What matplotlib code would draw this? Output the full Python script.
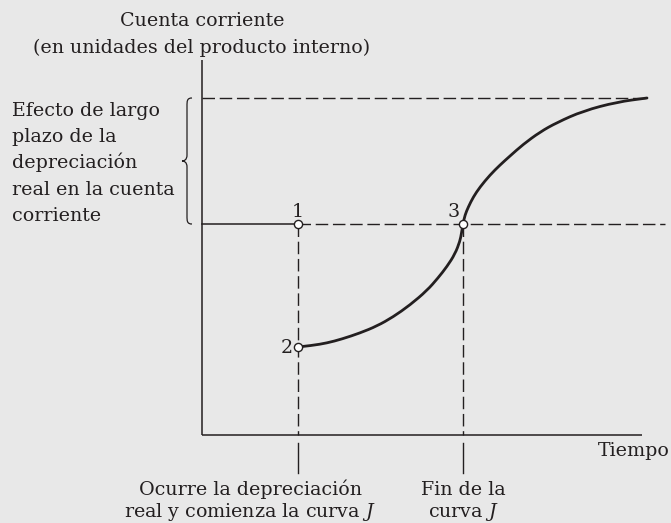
import matplotlib
matplotlib.use("Agg")
import matplotlib.pyplot as plt
from matplotlib.path import Path
from matplotlib.patches import PathPatch

# ---- data (schematic units: time, current account) ----
t_dep = 9.6          # real depreciation occurs (point 1/2)
t_end = 26.1         # end of J-curve (point 3)
ca_initial = 21.1    # initial current account level
ca_point2 = 8.8      # current account right after depreciation
ca_long = 33.7       # long-run current account
t_axis_end = 44.0
ca_axis_top = 37.5
t_dash_end = 46.3
t_long = 44.5

curve_t = [9.6, 11.0, 12.5, 14.0, 15.8, 17.5, 19.1, 20.8, 22.5, 23.6, 24.5, 25.3,
           25.8, 25.95, 26.1, 26.3, 26.63, 27.13, 27.8, 28.8, 29.8, 30.8, 32.1,
           33.8, 35.5, 38.1, 41.5, 44.5]
curve_ca = [8.8, 8.95, 9.2, 9.6, 10.2, 10.9, 11.8, 13.0, 14.45, 15.7, 16.85, 18.1,
            19.4, 20.2, 21.1, 22.0, 22.8, 23.8, 24.8, 26.0, 27.0, 27.9, 29.05,
            30.3, 31.25, 32.4, 33.3, 33.7]

point_labels = ["1", "2", "3"]

# ---- figure ----
W, H = 671, 523
BG = "#e8e8e8"
INK = "#231f20"
fig = plt.figure(figsize=(W / 100, H / 100), dpi=100, facecolor=BG)
ax = fig.add_axes([0, 0, 1, 1])
ax.set_facecolor(BG)
ax.set_xlim(-20.2, 46.9)
ax.set_ylim(-8.8, 43.5)
ax.axis("off")

plt.rcParams["mathtext.fontset"] = "dejavuserif"
FONT = dict(family="DejaVu Serif", size=13.7, color=INK)
dash = (0, (9, 3.4))

# axes
ax.plot([0, 0], [0, ca_axis_top], color=INK, lw=1.1, solid_capstyle="butt")
ax.plot([0, t_axis_end], [0, 0], color=INK, lw=1.1, solid_capstyle="butt")

# long-run dashed line
ax.plot([0, t_long], [ca_long, ca_long], color=INK, lw=1.0, ls=dash)
# initial level: solid then dashed
ax.plot([0, t_dep], [ca_initial, ca_initial], color=INK, lw=1.1)
ax.plot([t_dep, t_dash_end], [ca_initial, ca_initial], color=INK, lw=1.0, ls=dash)

# vertical dashed guides + solid ticks below axis
for t in (t_dep, t_end):
    ax.plot([t, t], [ca_initial, 0], color=INK, lw=1.0, ls=dash)
    ax.plot([t, t], [-0.8, -3.8], color=INK, lw=1.0)

# J curve: smooth quadratic path through the read points
pts = list(zip(curve_t, curve_ca))
verts = [pts[0]]
codes = [Path.MOVETO]
for i in range(1, len(pts) - 1):
    mx = (pts[i][0] + pts[i + 1][0]) / 2
    my = (pts[i][1] + pts[i + 1][1]) / 2
    verts += [pts[i], (mx, my)]
    codes += [Path.CURVE3, Path.CURVE3]
verts.append(pts[-1])
codes.append(Path.LINETO)
ax.add_patch(PathPatch(Path(verts, codes), fc="none", ec=INK, lw=2.0,
                       capstyle="round", joinstyle="round", zorder=3))

# points
px = [t_dep, t_dep, t_end]
py = [ca_initial, ca_point2, ca_initial]
ax.plot(px, py, ls="none", marker="o", ms=5.9, mfc="white", mec=INK, mew=1.0, zorder=4)
ax.text(t_dep, ca_initial + 0.7, point_labels[0], ha="center", va="baseline", **FONT)
ax.text(t_dep - 0.55, ca_point2 - 0.6, point_labels[1], ha="right", va="baseline", **FONT)
ax.text(t_end - 0.9, ca_initial + 0.7, point_labels[2], ha="center", va="baseline", **FONT)

# brace
bx = -1.5
top, bot = ca_long, ca_initial
mid = (top + bot) / 2
bverts = [
    (bx + 0.5, top), (bx, top), (bx, top - 0.3), (bx, top - 0.8),
    (bx, mid + 0.6),
    (bx, mid + 0.1), (bx - 0.3, mid), (bx - 0.5, mid),
    (bx - 0.3, mid), (bx, mid - 0.1), (bx, mid - 0.6),
    (bx, bot + 0.8),
    (bx, bot + 0.3), (bx, bot), (bx + 0.5, bot),
]
bcodes = [Path.MOVETO, Path.CURVE4, Path.CURVE4, Path.CURVE4,
          Path.LINETO,
          Path.CURVE4, Path.CURVE4, Path.CURVE4,
          Path.CURVE4, Path.CURVE4, Path.CURVE4,
          Path.LINETO,
          Path.CURVE4, Path.CURVE4, Path.CURVE4]
ax.add_patch(PathPatch(Path(bverts, bcodes), fc="none", ec=INK, lw=0.9))

# texts
ax.text(0, 40.9, "Cuenta corriente", ha="center", va="baseline", **FONT)
ax.text(0, 38.2, "(en unidades del producto interno)", ha="center", va="baseline", **FONT)

left_lines = ["Efecto de largo", "plazo de la", "depreciación",
              "real en la cuenta", "corriente"]
for i, s in enumerate(left_lines):
    ax.text(-19.0, 31.9 - 2.62 * i, s, ha="left", va="baseline", **FONT)

ax.text(39.6, -2.1, "Tiempo", ha="left", va="baseline", **FONT)

ax.text(4.8, -6.0, "Ocurre la depreciación", ha="center", va="baseline", **FONT)
ax.text(4.8, -8.2, "real y comienza la curva $J$", ha="center", va="baseline", **FONT)
ax.text(t_end, -6.0, "Fin de la", ha="center", va="baseline", **FONT)
ax.text(t_end, -8.2, "curva $J$", ha="center", va="baseline", **FONT)

fig.savefig("out.png", dpi=100, facecolor=BG)
